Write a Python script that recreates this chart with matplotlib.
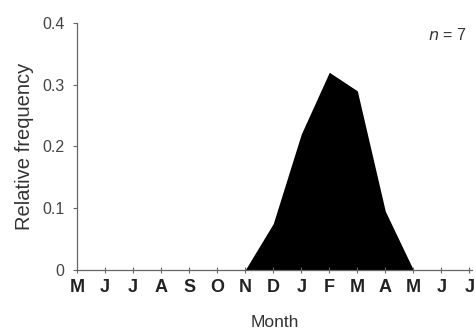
import matplotlib
matplotlib.use('Agg')
import matplotlib.pyplot as plt

months = ['M', 'J', 'J', 'A', 'S', 'O', 'N', 'D', 'J', 'F', 'M', 'A', 'M', 'J', 'J']
rel_freq = [0, 0, 0, 0, 0, 0, 0, 0.075, 0.22, 0.32, 0.29, 0.095, 0, 0, 0]
n_label = '$n$ = 7'

plt.rcParams['font.family'] = ['Liberation Sans', 'DejaVu Sans']

fig = plt.figure(figsize=(4.76, 3.32), dpi=100)
ax = fig.add_axes([0.162, 0.187, 0.830, 0.744])

x = list(range(len(months)))
ax.fill_between(x, rel_freq, 0, color='black', linewidth=0)

ax.set_xlim(0, 14.1)
ax.set_ylim(0, 0.4)
ax.set_xticks(x)
ax.set_xticklabels(months, fontsize=13, fontweight='bold', color='#222222')
ax.set_yticks([0, 0.1, 0.2, 0.3, 0.4])
ax.set_yticklabels(['0', '0.1', '0.2', '0.3', '0.4'], fontsize=11.5, color='#444444')

for side in ['top', 'right']:
    ax.spines[side].set_visible(False)
for side in ['left', 'bottom']:
    ax.spines[side].set_color('#666666')
    ax.spines[side].set_linewidth(0.9)

ax.tick_params(axis='x', direction='inout', length=5, width=0.8, color='#666666', pad=4)
ax.tick_params(axis='y', direction='out', length=3, width=0.8, color='#666666', pad=6)

ax.set_ylabel('Relative frequency', fontsize=14.5, color='#333333', labelpad=6)
ax.set_xlabel('Month', fontsize=12.5, color='#333333', labelpad=14)

ax.text(0.985, 0.985, n_label, transform=ax.transAxes, ha='right', va='top',
        fontsize=11.5, color='#333333')

fig.savefig('out.png', dpi=100)
